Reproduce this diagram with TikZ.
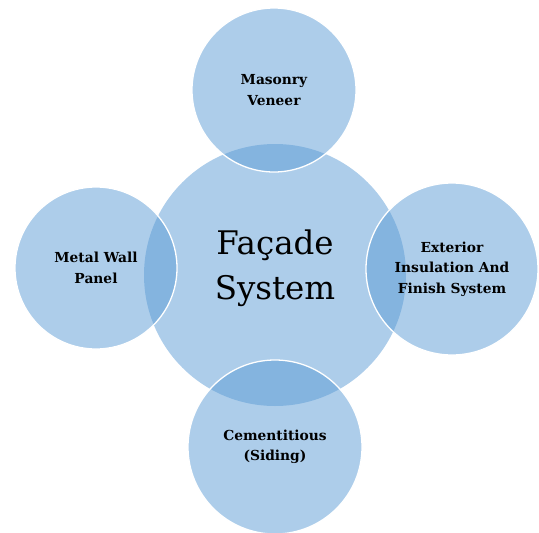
\documentclass[tikz,border=0pt]{standalone}
\usepackage{fontspec}
\setmainfont{DejaVu Serif}
\definecolor{bubbleblue}{RGB}{91,155,213}
\begin{document}
\begin{tikzpicture}[x=1pt,y=-1pt,
  bubble/.style={circle, inner sep=0pt, fill=bubbleblue, fill opacity=0.5,
    text opacity=1, text=black, align=center},
  outer/.style={bubble, draw=white, draw opacity=1, line width=1.3pt},
  label/.style={font=\fontsize{13.8}{20.5}\selectfont\bfseries}]
  \useasboundingbox (0,0) rectangle (539,533);
  % central subject
  \node[bubble, minimum size=262pt] (hub) at (275,275) {};
  \node[align=center, inner sep=0pt, font=\fontsize{32.5}{45}\selectfont]
       (hubtext) at (275,268) {Façade\\System};
  % surrounding facade types
  \node[outer, label, minimum size=164pt] (top) at (274,90) {Masonry\\Veneer};
  \node[outer, label, minimum size=162pt] (left) at (96,268) {Metal Wall\\Panel};
  \node[outer, label, minimum size=172pt] (right) at (452,269)
       {Exterior\\Insulation And\\Finish System};
  \node[outer, label, minimum size=174pt] (bottom) at (275,447)
       {Cementitious\\(Siding)};
\end{tikzpicture}
\end{document}
